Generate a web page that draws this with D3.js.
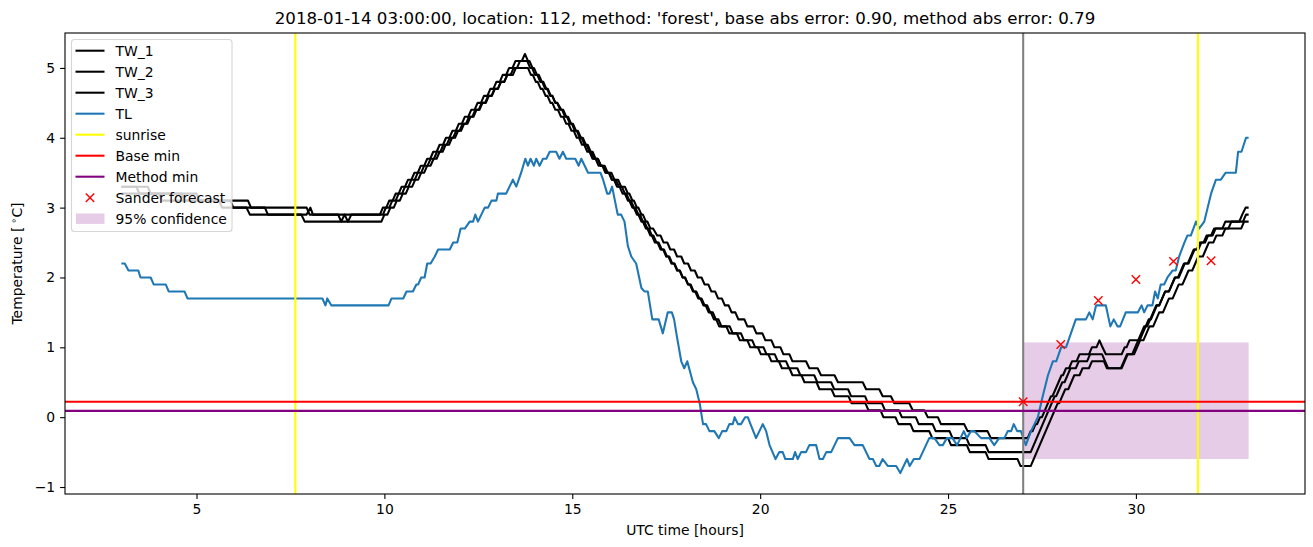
<!DOCTYPE html>
<html><head><meta charset="utf-8">
<script src="https://cdn.jsdelivr.net/npm/d3@7"></script>
<style>body{margin:0;background:#fff}text{font-family:"DejaVu Sans",sans-serif}</style>
</head><body>
<script>
// ---------------- data ----------------
const TW_1 = [[3.0,3.3],[3.7,3.3],[3.78,3.2],[5.0,3.2],[5.08,3.1],[6.37,3.1],[6.45,3.0],[7.93,3.0],[8.01,2.9],[8.77,2.9],[8.85,2.8],[8.94,2.9],[9.03,2.8],[9.12,2.9],[9.88,2.9],
[9.96,3.0],[10.05,3.0],[10.13,3.1],[10.22,3.1],[10.3,3.2],[10.38,3.2],[10.46,3.3],[10.55,3.3],[10.63,3.4],[10.72,3.4],[10.8,3.5],[10.89,3.5],[10.97,3.6],[11.06,3.6],[11.14,3.7],[11.22,3.7],[11.3,3.8],[11.39,3.8],[11.47,3.9],[11.56,3.9],[11.64,4.0],[11.73,4.0],[11.81,4.1],[11.9,4.1],[11.98,4.2],[12.06,4.2],[12.14,4.3],[12.23,4.3],[12.31,4.4],[12.4,4.4],[12.48,4.5],[12.57,4.5],[12.65,4.6],[12.74,4.6],[12.82,4.7],[12.9,4.7],[12.98,4.8],[13.07,4.8],[13.15,4.9],[13.24,4.9],[13.32,5.0],[13.41,5.0],[13.49,5.1],[13.66,5.1],[13.74,5.2],
[13.82,5.1],[13.86,5.1],[13.94,5.0],[13.98,5.0],[14.06,4.9],[14.11,4.9],[14.19,4.8],[14.23,4.8],[14.31,4.7],[14.35,4.7],[14.43,4.6],[14.47,4.6],[14.55,4.5],[14.6,4.5],[14.68,4.4],[14.73,4.4],[14.81,4.3],[14.86,4.3],[14.94,4.2],[14.99,4.2],[15.07,4.1],[15.12,4.1],[15.2,4.0],[15.25,4.0],[15.33,3.9],[15.38,3.9],[15.46,3.8],[15.5,3.8],[15.58,3.7],[15.68,3.7],[15.76,3.6],[15.86,3.6],[15.94,3.5],[16.04,3.5],[16.12,3.4],[16.22,3.4],[16.3,3.3],[16.4,3.3],[16.48,3.2],[16.52,3.2],[16.6,3.1],[16.64,3.1],[16.72,3.0],[16.76,3.0],[16.84,2.9],[16.88,2.9],[16.96,2.8],[17.0,2.8],[17.08,2.7],[17.15,2.7],[17.26,2.6],[17.35,2.6],[17.43,2.5],[17.53,2.5],[17.61,2.4],[17.71,2.4],[17.79,2.3],[17.9,2.3],[17.98,2.2],[18.08,2.2],[18.16,2.1],[18.26,2.1],[18.34,2.0],[18.44,2.0],[18.52,1.9],[18.62,1.9],[18.7,1.8],[18.8,1.8],[18.88,1.7],[18.98,1.7],[19.06,1.6],[19.16,1.6],[19.24,1.5],[19.34,1.5],[19.42,1.4],[19.58,1.4],[19.66,1.3],[19.82,1.3],[19.9,1.2],[20.06,1.2],[20.14,1.1],[20.3,1.1],[20.38,1.0],[20.54,1.0],[20.62,0.9],[20.78,0.9],[20.86,0.8],[21.22,0.8],[21.31,0.7],[21.53,0.7],[21.62,0.6],[21.98,0.6],[22.07,0.5],[22.73,0.5],[22.82,0.4],[23.17,0.4],[23.26,0.3],[23.48,0.3],[23.57,0.2],[23.97,0.2],[24.06,0.1],[24.37,0.1],[24.46,0.0],[24.73,0.0],[24.81,-0.1],[25.43,-0.1],[25.52,-0.2],[26.05,-0.2],[26.14,-0.3],[27.12,-0.3],
[27.2,-0.2],[27.25,-0.2],[27.33,-0.1],[27.37,-0.1],[27.45,0.0],[27.5,0.0],[27.58,0.1],[27.66,0.2],[27.74,0.3],[27.78,0.3],[27.86,0.4],[27.94,0.5],[28.02,0.6],[28.06,0.6],[28.14,0.7],[28.22,0.7],[28.3,0.8],[28.42,0.8],[28.5,0.9],[28.75,0.9],[28.83,1.0],[28.95,1.0],[29.03,1.1],[29.11,1.0],[29.2,0.9],[29.62,0.9],[29.7,1.0],[29.75,1.0],[29.83,1.1],[30.1,1.1],[30.18,1.2],[30.26,1.3],[30.34,1.4],[30.4,1.4],[30.48,1.5],[30.56,1.6],[30.62,1.6],[30.7,1.7],[30.78,1.8],[30.88,1.8],[30.96,1.9],[31.04,2.0],[31.12,2.0],[31.2,2.1],[31.28,2.2],[31.38,2.2],[31.46,2.3],[31.54,2.4],[31.62,2.4],[31.7,2.5],[31.8,2.5],[31.88,2.6],[32.0,2.6],[32.08,2.7],[32.3,2.7],[32.38,2.8],[32.75,2.8],[32.83,2.9],[32.92,3.0],[33.0,3.0]];

const TW_2 = [[3.0,3.3],[3.4,3.3],[3.48,3.2],[4.6,3.2],[4.68,3.1],[5.6,3.1],[5.68,3.0],[6.82,3.0],[6.9,2.9],[7.93,2.9],[8.03,3.0],[8.1,2.9],[9.96,2.9],
[10.04,3.0],[10.13,3.0],[10.21,3.1],[10.3,3.1],[10.38,3.2],[10.47,3.2],[10.55,3.3],[10.64,3.3],[10.72,3.4],[10.81,3.4],[10.89,3.5],[10.98,3.5],[11.06,3.6],[11.15,3.6],[11.23,3.7],[11.32,3.7],[11.4,3.8],[11.49,3.8],[11.57,3.9],[11.66,3.9],[11.74,4.0],[11.83,4.0],[11.91,4.1],[12.0,4.1],[12.08,4.2],[12.17,4.2],[12.25,4.3],[12.34,4.3],[12.42,4.4],[12.51,4.4],[12.59,4.5],[12.68,4.5],[12.76,4.6],[12.85,4.6],[12.93,4.7],[13.02,4.7],[13.1,4.8],[13.19,4.8],[13.27,4.9],[13.36,4.9],[13.44,5.0],[13.53,5.0],[13.61,5.1],[13.8,5.1],
[13.88,5.0],[13.93,5.0],[14.01,4.9],[14.07,4.9],[14.15,4.8],[14.2,4.8],[14.28,4.7],[14.33,4.7],[14.41,4.6],[14.47,4.6],[14.55,4.5],[14.6,4.5],[14.71,4.4],[14.76,4.4],[14.84,4.3],[14.89,4.3],[14.97,4.2],[15.02,4.2],[15.1,4.1],[15.15,4.1],[15.23,4.0],[15.28,4.0],[15.36,3.9],[15.41,3.9],[15.49,3.8],[15.54,3.8],[15.62,3.7],[15.68,3.7],[15.76,3.6],[15.82,3.6],[15.9,3.5],[15.97,3.5],[16.05,3.4],[16.11,3.4],[16.19,3.3],[16.26,3.3],[16.34,3.2],[16.4,3.2],[16.48,3.1],[16.52,3.1],[16.6,3.0],[16.64,3.0],[16.72,2.9],[16.76,2.9],[16.84,2.8],[16.88,2.8],[16.96,2.7],[17.0,2.7],[17.08,2.6],[17.12,2.6],[17.2,2.5],[17.27,2.5],[17.35,2.4],[17.42,2.4],[17.5,2.3],[17.56,2.3],[17.64,2.2],[17.71,2.2],[17.79,2.1],[17.86,2.1],[17.94,2.0],[18.0,2.0],[18.08,1.9],[18.15,1.9],[18.23,1.8],[18.3,1.8],[18.38,1.7],[18.44,1.7],[18.52,1.6],[18.59,1.6],[18.67,1.5],[18.74,1.5],[18.82,1.4],[18.89,1.4],[18.97,1.3],[19.19,1.3],[19.27,1.2],[19.49,1.2],[19.57,1.1],[19.79,1.1],[19.87,1.0],[20.09,1.0],[20.17,0.9],[20.39,0.9],[20.47,0.8],[20.69,0.8],[20.77,0.7],[20.99,0.7],[21.07,0.6],[21.44,0.6],[21.52,0.5],[21.89,0.5],[21.97,0.4],[22.34,0.4],[22.42,0.3],[22.79,0.3],[22.87,0.2],[23.24,0.2],[23.32,0.1],[23.69,0.1],[23.77,0.0],[24.14,0.0],[24.22,-0.1],[24.59,-0.1],[24.67,-0.2],[25.04,-0.2],[25.12,-0.3],[25.49,-0.3],[25.57,-0.4],[26.0,-0.4],[26.08,-0.5],[27.2,-0.5],
[27.28,-0.4],[27.36,-0.3],[27.44,-0.2],[27.52,-0.1],[27.6,0.0],[27.68,0.1],[27.76,0.2],[27.84,0.3],[27.88,0.3],[27.96,0.4],[28.04,0.5],[28.1,0.5],[28.18,0.6],[28.26,0.7],[28.4,0.7],[28.48,0.8],[28.7,0.8],[28.78,0.9],[29.1,0.9],[29.18,0.8],[29.26,0.7],[29.6,0.7],[29.68,0.8],[29.76,0.9],[29.9,0.9],[29.98,1.0],[30.06,1.1],[30.14,1.2],[30.22,1.3],[30.3,1.3],[30.38,1.4],[30.46,1.5],[30.54,1.6],[30.62,1.6],[30.7,1.7],[30.78,1.8],[30.88,1.8],[30.96,1.9],[31.04,2.0],[31.14,2.0],[31.22,2.1],[31.3,2.2],[31.4,2.2],[31.48,2.3],[31.56,2.4],[31.66,2.4],[31.74,2.5],[31.84,2.5],[31.92,2.6],[32.04,2.6],[32.12,2.7],[32.46,2.7],[32.54,2.8],[32.85,2.8],[32.93,2.9],[33.0,2.9]];

const TW_3 = [[3.0,3.2],[4.0,3.2],[4.08,3.1],[5.9,3.1],[5.98,3.0],[6.33,3.0],[6.42,2.9],[7.79,2.9],[7.88,2.8],[9.92,2.8],
[10.0,2.9],[10.08,2.9],[10.16,3.0],[10.25,3.0],[10.33,3.1],[10.41,3.1],[10.49,3.2],[10.57,3.2],[10.65,3.3],[10.74,3.3],[10.82,3.4],[10.9,3.4],[10.98,3.5],[11.06,3.5],[11.14,3.6],[11.23,3.6],[11.31,3.7],[11.39,3.7],[11.47,3.8],[11.55,3.8],[11.63,3.9],[11.72,3.9],[11.8,4.0],[11.88,4.0],[11.96,4.1],[12.04,4.1],[12.12,4.2],[12.21,4.2],[12.29,4.3],[12.37,4.3],[12.45,4.4],[12.53,4.4],[12.61,4.5],[12.7,4.5],[12.78,4.6],[12.86,4.6],[12.94,4.7],[13.02,4.7],[13.1,4.8],[13.19,4.8],[13.27,4.9],[13.42,4.9],[13.5,5.0],[13.82,5.0],
[13.9,4.9],[13.95,4.9],[14.03,4.8],[14.08,4.8],[14.16,4.7],[14.21,4.7],[14.29,4.6],[14.34,4.6],[14.42,4.5],[14.47,4.5],[14.55,4.4],[14.62,4.4],[14.7,4.3],[14.76,4.3],[14.84,4.2],[14.9,4.2],[14.98,4.1],[15.04,4.1],[15.12,4.0],[15.18,4.0],[15.26,3.9],[15.32,3.9],[15.4,3.8],[15.46,3.8],[15.54,3.7],[15.62,3.7],[15.7,3.6],[15.8,3.6],[15.88,3.5],[15.98,3.5],[16.06,3.4],[16.16,3.4],[16.24,3.3],[16.32,3.3],[16.4,3.2],[16.44,3.2],[16.52,3.1],[16.56,3.1],[16.64,3.0],[16.68,3.0],[16.76,2.9],[16.8,2.9],[16.88,2.8],[16.92,2.8],[17.0,2.7],[17.04,2.7],[17.12,2.6],[17.16,2.6],[17.24,2.5],[17.3,2.5],[17.38,2.4],[17.44,2.4],[17.52,2.3],[17.58,2.3],[17.66,2.2],[17.72,2.2],[17.8,2.1],[17.86,2.1],[17.94,2.0],[18.0,2.0],[18.08,1.9],[18.13,1.9],[18.21,1.8],[18.27,1.8],[18.35,1.7],[18.41,1.7],[18.49,1.6],[18.55,1.6],[18.63,1.5],[18.69,1.5],[18.77,1.4],[18.83,1.4],[18.91,1.3],[19.1,1.3],[19.18,1.2],[19.38,1.2],[19.46,1.1],[19.66,1.1],[19.74,1.0],[19.94,1.0],[20.02,0.9],[20.22,0.9],[20.3,0.8],[20.5,0.8],[20.58,0.7],[20.78,0.7],[20.86,0.6],[21.1,0.6],[21.18,0.5],[21.5,0.5],[21.58,0.4],[21.9,0.4],[21.98,0.3],[22.35,0.3],[22.43,0.2],[22.8,0.2],[22.88,0.1],[23.2,0.1],[23.28,0.0],[23.6,0.0],[23.68,-0.1],[24.0,-0.1],[24.08,-0.2],[24.5,-0.2],[24.58,-0.3],[25.0,-0.3],[25.08,-0.4],[25.5,-0.4],[25.58,-0.5],[26.0,-0.5],[26.08,-0.6],[26.85,-0.6],[26.93,-0.7],[27.2,-0.7],
[27.28,-0.6],[27.36,-0.5],[27.44,-0.4],[27.52,-0.3],[27.6,-0.2],[27.68,-0.1],[27.76,0.0],[27.84,0.1],[27.92,0.2],[27.96,0.2],[28.04,0.3],[28.12,0.4],[28.2,0.4],[28.28,0.5],[28.36,0.6],[28.5,0.6],[28.58,0.7],[28.75,0.7],[28.83,0.8],[29.15,0.8],[29.23,0.7],[29.62,0.7],[29.7,0.8],[29.78,0.9],[29.95,0.9],[30.03,1.0],[30.11,1.1],[30.2,1.1],[30.28,1.2],[30.36,1.3],[30.46,1.3],[30.54,1.4],[30.62,1.5],[30.72,1.5],[30.8,1.6],[30.88,1.7],[30.98,1.7],[31.06,1.8],[31.14,1.9],[31.24,1.9],[31.32,2.0],[31.4,2.1],[31.5,2.1],[31.58,2.2],[31.66,2.3],[31.78,2.3],[31.86,2.4],[31.94,2.5],[32.06,2.5],[32.14,2.6],[32.3,2.6],[32.38,2.7],[32.8,2.7],[32.88,2.8],[33.0,2.8]];

const TL = [[3.0,2.2],[3.09,2.2],[3.19,2.1],[3.45,2.1],[3.51,2.0],[3.78,2.0],[3.86,1.9],[4.18,1.9],[4.26,1.8],[4.68,1.8],[4.76,1.7],[8.35,1.7],[8.43,1.6],[8.48,1.7],[8.59,1.6],[10.11,1.6],[10.19,1.7],[10.5,1.7],[10.59,1.8],[10.76,1.8],[10.85,1.9],[10.9,1.9],[10.98,2.0],[11.07,2.0],[11.14,2.2],[11.23,2.2],[11.34,2.3],[11.43,2.4],[11.74,2.4],[11.83,2.5],[11.94,2.5],[12.03,2.7],[12.14,2.7],[12.27,2.8],[12.36,2.8],[12.42,2.9],[12.49,2.8],[12.67,3.0],[12.76,3.0],[12.85,3.1],[12.98,3.1],[13.02,3.2],[13.24,3.2],[13.33,3.3],[13.42,3.4],[13.51,3.3],[13.64,3.5],[13.75,3.7],[13.82,3.6],[13.89,3.7],[13.98,3.6],[14.04,3.7],[14.13,3.6],[14.22,3.7],[14.31,3.7],[14.4,3.8],[14.57,3.8],[14.66,3.7],[14.75,3.8],[14.84,3.7],[15.08,3.7],[15.17,3.6],[15.24,3.7],[15.33,3.6],[15.42,3.5],[15.75,3.5],[15.82,3.4],[15.93,3.2],[15.99,3.2],[16.06,3.3],[16.21,2.9],[16.3,2.9],[16.39,2.8],[16.48,2.45],[16.57,2.3],[16.7,2.2],[16.84,1.85],[16.92,1.8],[17.01,1.8],[17.13,1.4],[17.3,1.4],[17.41,1.2],[17.54,1.5],[17.65,1.5],[17.71,1.4],[17.77,1.2],[17.9,0.8],[17.98,0.7],[18.06,0.8],[18.21,0.5],[18.3,0.4],[18.39,0.2],[18.48,-0.1],[18.56,-0.1],[18.65,-0.2],[18.78,-0.2],[18.9,-0.3],[18.99,-0.2],[19.1,-0.2],[19.18,-0.1],[19.27,-0.1],[19.32,0.0],[19.41,-0.1],[19.49,-0.1],[19.6,0.0],[19.67,0.0],[19.89,-0.3],[20.07,-0.1],[20.16,-0.2],[20.25,-0.4],[20.41,-0.6],[20.51,-0.5],[20.6,-0.5],[20.67,-0.6],[20.87,-0.6],[20.93,-0.5],[21.0,-0.6],[21.09,-0.5],[21.22,-0.5],[21.31,-0.4],[21.49,-0.4],[21.58,-0.6],[21.67,-0.6],[21.76,-0.5],[21.89,-0.5],[22.07,-0.3],[22.38,-0.3],[22.51,-0.4],[22.73,-0.4],[22.91,-0.6],[23.0,-0.6],[23.09,-0.7],[23.17,-0.7],[23.26,-0.6],[23.4,-0.7],[23.62,-0.7],[23.73,-0.8],[23.91,-0.6],[23.98,-0.7],[24.09,-0.6],[24.24,-0.6],[24.5,-0.3],[24.64,-0.3],[24.77,-0.4],[24.86,-0.4],[24.97,-0.3],[25.12,-0.3],[25.24,-0.4],[25.42,-0.2],[25.5,-0.3],[25.61,-0.2],[25.7,-0.2],[25.88,-0.3],[26.1,-0.3],[26.23,-0.4],[26.36,-0.3],[26.5,-0.3],[26.59,-0.2],[26.68,-0.2],[26.75,-0.1],[26.84,-0.2],[26.94,-0.2],[27.07,-0.4],[27.21,-0.2],[27.3,-0.1],[27.39,0.0],[27.52,0.3],[27.66,0.6],[27.79,0.8],[27.88,0.8],[28.01,1.0],[28.14,1.0],[28.27,1.2],[28.4,1.4],[28.67,1.4],[28.76,1.5],[28.85,1.4],[28.94,1.6],[29.2,1.6],[29.32,1.3],[29.41,1.4],[29.51,1.3],[29.58,1.3],[29.73,1.5],[30.05,1.5],[30.15,1.6],[30.22,1.5],[30.31,1.6],[30.44,1.6],[30.51,1.8],[30.58,1.7],[30.66,1.9],[30.75,1.9],[30.84,2.0],[30.98,2.1],[31.06,2.1],[31.15,2.3],[31.29,2.5],[31.37,2.6],[31.46,2.6],[31.6,2.8],[31.68,2.7],[31.82,2.8],[31.91,3.0],[32.0,3.2],[32.13,3.4],[32.26,3.4],[32.39,3.5],[32.66,3.5],[32.72,3.8],[32.81,3.8],[32.93,4.0],[33.0,4.0]];

const sunriseHours = [7.63, 31.65];
const forecastHour = [27.0];
const baseMin = [0.22];
const methodMin = [0.09];
const sanderHours = [27, 28, 29, 30, 31, 32];
const sanderValues = [0.22, 1.04, 1.67, 1.97, 2.23, 2.24];
const confHours = [27, 33];
const confRange = [-0.6, 1.07];
const xTicks = [5, 10, 15, 20, 25, 30];
const yTicks = [-1, 0, 1, 2, 3, 4, 5];
const legendLabels = ["TW_1", "TW_2", "TW_3", "TL", "sunrise", "Base min", "Method min", "Sander forecast", "95% confidence"];
const titleText = "2018-01-14 03:00:00, location: 112, method: 'forest', base abs error: 0.90, method abs error: 0.79";

// ---------------- layout ----------------
const W = 1313, H = 547;
const L = 65, R = 1305, T = 33, B = 494;
const svg = d3.select("body").append("svg").attr("width", W).attr("height", H);
svg.append("rect").attr("width", W).attr("height", H).attr("fill", "#fff");

const x = d3.scaleLinear().domain([1.5, 34.5]).range([L, R]);
const y = d3.scaleLinear().domain([-1.1, 5.5]).range([B, T]);

svg.append("defs").append("clipPath").attr("id", "clip")
  .append("rect").attr("x", L).attr("y", T).attr("width", R - L).attr("height", B - T);
const plot = svg.append("g").attr("clip-path", "url(#clip)");

const lw = 2.08;
// confidence band
plot.append("rect")
  .attr("x", x(confHours[0])).attr("width", x(confHours[1]) - x(confHours[0]))
  .attr("y", y(confRange[1])).attr("height", y(confRange[0]) - y(confRange[1]))
  .attr("fill", "purple").attr("fill-opacity", 0.2);

const line = d3.line().x(d => x(d[0])).y(d => y(d[1]));
[TW_1, TW_2, TW_3].forEach(s => {
  plot.append("path").attr("d", line(s)).attr("fill", "none").attr("stroke", "#000")
    .attr("stroke-width", lw).attr("stroke-linejoin", "round");
});
plot.append("path").attr("d", line(TL)).attr("fill", "none").attr("stroke", "#1f77b4")
  .attr("stroke-width", lw).attr("stroke-linejoin", "round");

// forecast time line
forecastHour.forEach(h => plot.append("line").attr("x1", x(h)).attr("x2", x(h)).attr("y1", T).attr("y2", B)
  .attr("stroke", "grey").attr("stroke-width", lw));
sunriseHours.forEach(h => plot.append("line").attr("x1", x(h)).attr("x2", x(h)).attr("y1", T).attr("y2", B)
  .attr("stroke", "yellow").attr("stroke-width", lw));
baseMin.forEach(v => plot.append("line").attr("x1", L).attr("x2", R).attr("y1", y(v)).attr("y2", y(v))
  .attr("stroke", "red").attr("stroke-width", lw));
methodMin.forEach(v => plot.append("line").attr("x1", L).attr("x2", R).attr("y1", y(v)).attr("y2", y(v))
  .attr("stroke", "purple").attr("stroke-width", lw));

function xMarker(g, cx, cy, r) {
  g.append("path").attr("d", `M${cx - r},${cy - r}L${cx + r},${cy + r}M${cx - r},${cy + r}L${cx + r},${cy - r}`)
    .attr("stroke", "red").attr("stroke-width", 1.4).attr("fill", "none");
}
sanderHours.forEach((h, i) => xMarker(plot, x(h), y(sanderValues[i]), 4.2));

// axes
const fmt = d => d < 0 ? "\u2212" + Math.abs(d) : String(d);
const xAxis = svg.append("g").attr("transform", `translate(0,${B})`)
  .call(d3.axisBottom(x).tickValues(xTicks).tickSize(4.9).tickPadding(4.9).tickSizeOuter(0).tickFormat(fmt));
const yAxis = svg.append("g").attr("transform", `translate(${L},0)`)
  .call(d3.axisLeft(y).tickValues(yTicks).tickSize(4.9).tickPadding(4.9).tickSizeOuter(0).tickFormat(fmt));
[xAxis, yAxis].forEach(a => {
  a.select(".domain").remove();
  a.selectAll(".tick line").attr("stroke", "#000").attr("stroke-width", 1.1);
  a.selectAll(".tick text").attr("font-family", "DejaVu Sans").attr("font-size", "13.9px").attr("fill", "#000");
});
svg.append("rect").attr("x", L).attr("y", T).attr("width", R - L).attr("height", B - T)
  .attr("fill", "none").attr("stroke", "#000").attr("stroke-width", 1.1);

svg.append("text").attr("x", (L + R) / 2).attr("y", 535).attr("text-anchor", "middle")
  .attr("font-size", "13.9px").text("UTC time [hours]");
const yl = svg.append("text").attr("transform", `translate(22,${(T + B) / 2}) rotate(-90)`)
  .attr("text-anchor", "middle").attr("font-size", "13.9px");
yl.append("tspan").text("Temperature [");
yl.append("tspan").attr("font-size", "9.7px").attr("dy", -5).attr("dx", 3).text("\u2218");
yl.append("tspan").attr("dy", 5).text("C]");
svg.append("text").attr("x", (L + R) / 2).attr("y", 24).attr("text-anchor", "middle")
  .attr("font-size", "16.67px").text(titleText);

// legend
const lg = svg.append("g");
lg.append("rect").attr("x", 71.5).attr("y", 39.5).attr("width", 160.5).attr("height", 192).attr("rx", 3)
  .attr("fill", "#fff").attr("fill-opacity", 0.8).attr("stroke", "#ccc").attr("stroke-opacity", 0.8).attr("stroke-width", 1.1);
const rowY = i => 50.7 + i * 21;
const legendStyles = [
  {type: "line", color: "#000"}, {type: "line", color: "#000"}, {type: "line", color: "#000"},
  {type: "line", color: "#1f77b4"}, {type: "line", color: "yellow"}, {type: "line", color: "red"},
  {type: "line", color: "purple"}, {type: "marker"}, {type: "patch"}];
legendLabels.forEach((lab, i) => {
  const cy = rowY(i), st = legendStyles[i];
  if (st.type === "line") {
    lg.append("line").attr("x1", 75.5).attr("x2", 104.5).attr("y1", cy).attr("y2", cy)
      .attr("stroke", st.color).attr("stroke-width", lw);
  } else if (st.type === "marker") {
    xMarker(lg, 90, cy, 4.2);
  } else {
    lg.append("rect").attr("x", 76).attr("y", cy - 5.2).attr("width", 28.5).attr("height", 10.4)
      .attr("fill", "purple").attr("fill-opacity", 0.2);
  }
  lg.append("text").attr("x", 115.5).attr("y", cy + 5).attr("font-size", "13.9px").text(lab);
});
</script>
</body></html>
